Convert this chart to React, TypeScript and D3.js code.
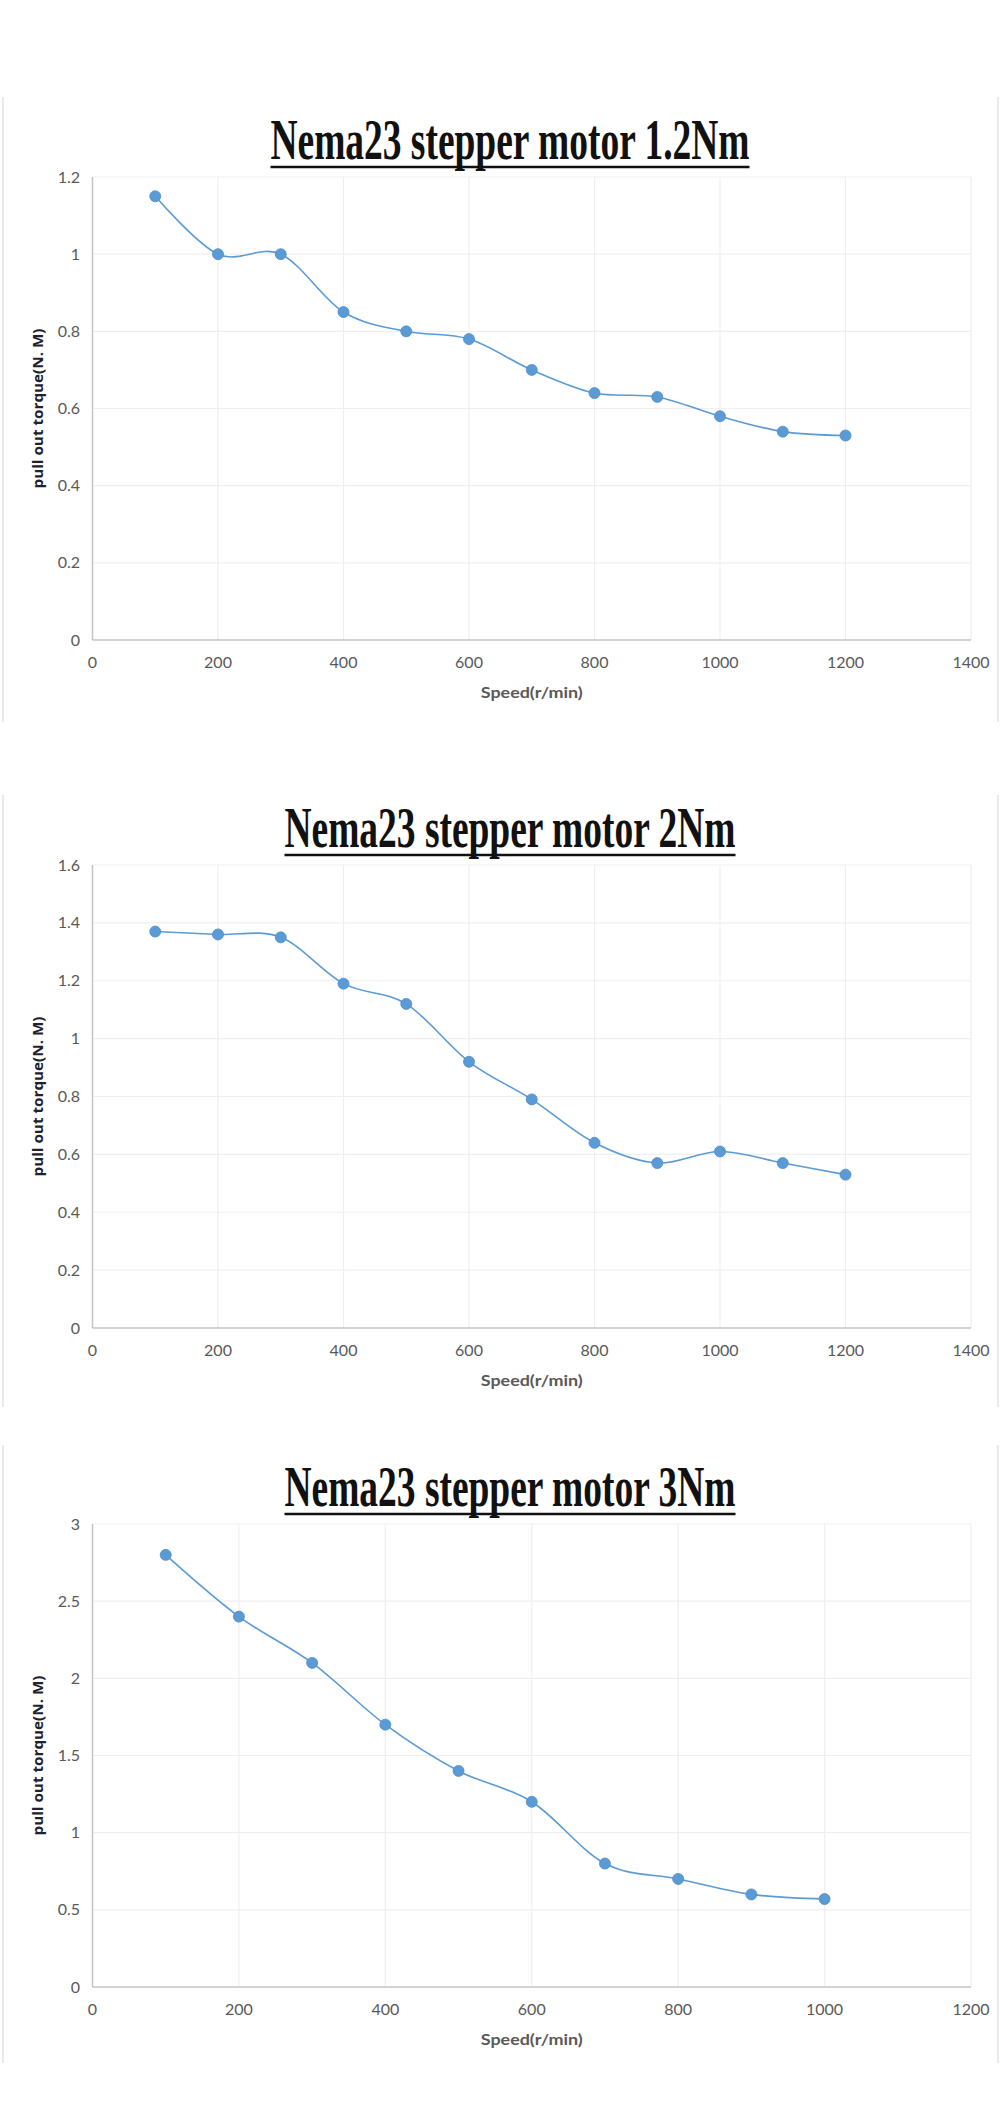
import React from "react";
import * as d3 from "d3";

// ---------- data ----------
const titles = [
  "Nema23 stepper motor 1.2Nm",
  "Nema23 stepper motor 2Nm",
  "Nema23 stepper motor 3Nm",
];

const speeds12 = [100, 200, 300, 400, 500, 600, 700, 800, 900, 1000, 1100, 1200];
const torque12 = [1.15, 1.0, 1.0, 0.85, 0.8, 0.78, 0.7, 0.64, 0.63, 0.58, 0.54, 0.53];

const speeds2 = [100, 200, 300, 400, 500, 600, 700, 800, 900, 1000, 1100, 1200];
const torque2 = [1.37, 1.36, 1.35, 1.19, 1.12, 0.92, 0.79, 0.64, 0.57, 0.61, 0.57, 0.53];

const speeds3 = [100, 200, 300, 400, 500, 600, 700, 800, 900, 1000];
const torque3 = [2.8, 2.4, 2.1, 1.7, 1.4, 1.2, 0.8, 0.7, 0.6, 0.57];

const xTicks12 = [0, 200, 400, 600, 800, 1000, 1200, 1400];
const yTicks12 = [0, 0.2, 0.4, 0.6, 0.8, 1, 1.2];
const xTicks2 = [0, 200, 400, 600, 800, 1000, 1200, 1400];
const yTicks2 = [0, 0.2, 0.4, 0.6, 0.8, 1, 1.2, 1.4, 1.6];
const xTicks3 = [0, 200, 400, 600, 800, 1000, 1200];
const yTicks3 = [0, 0.5, 1, 1.5, 2, 2.5, 3];

const xLabel = "Speed(r/min)";
const yLabel = "pull out torque(N. M)";

// ---------- styles ----------
const BLUE = "#5b9bd5";
const TICK_COLOR = "#595959";
const GRID = "#efefef";
const AXIS = "#c4c4c4";
const FRAME = "#e9eaea";

type PanelProps = {
  title: string;
  titleWidth: number;
  xs: number[];
  ys: number[];
  xTicks: number[];
  yTicks: number[];
  plotTop: number;
  frameTop: number;
  frameBottom: number;
};

const LEFT = 92.5;
const RIGHT = 971;
const PLOT_H = 463;

function Panel({ title, titleWidth, xs, ys, xTicks, yTicks, plotTop, frameTop, frameBottom }: PanelProps) {
  const x = d3
    .scaleLinear()
    .domain([0, xTicks[xTicks.length - 1]])
    .range([LEFT, RIGHT]);
  const y = d3
    .scaleLinear()
    .domain([0, yTicks[yTicks.length - 1]])
    .range([plotTop + PLOT_H, plotTop]);
  const line = d3
    .line<number>()
    .x((_, i) => x(xs[i]))
    .y((d) => y(d))
    .curve(d3.curveCardinal.tension(0));
  const bottom = plotTop + PLOT_H;
  const cx = 510;
  const baseline = plotTop - 18;
  return (
    <g>
      {/* faint frame */}
      <line x1={3} x2={3} y1={frameTop} y2={frameBottom} stroke={FRAME} strokeWidth={2} />
      <line x1={998} x2={998} y1={frameTop} y2={frameBottom} stroke={FRAME} strokeWidth={2} />

      {/* title */}
      <text
        x={cx}
        y={baseline}
        textAnchor="middle"
        fontFamily="'Liberation Serif', 'DejaVu Serif', serif"
        fontWeight={700}
        fontSize={56}
        fill="#111"
        textLength={titleWidth}
        lengthAdjust="spacingAndGlyphs"
      >
        {title}
      </text>
      <line
        x1={cx - titleWidth / 2}
        x2={cx + titleWidth / 2}
        y1={plotTop - 10}
        y2={plotTop - 10}
        stroke="#111"
        strokeWidth={2.5}
      />

      {/* grid */}
      {yTicks.slice(1).map((t) => (
        <line key={"gy" + t} x1={LEFT} x2={RIGHT} y1={y(t)} y2={y(t)} stroke={GRID} strokeWidth={1.2} />
      ))}
      {xTicks.slice(1).map((t) => (
        <line key={"gx" + t} x1={x(t)} x2={x(t)} y1={plotTop} y2={bottom} stroke={GRID} strokeWidth={1.2} />
      ))}

      {/* axes */}
      <line x1={LEFT} x2={LEFT} y1={plotTop} y2={bottom} stroke={AXIS} strokeWidth={1.5} />
      <line x1={LEFT} x2={RIGHT} y1={bottom} y2={bottom} stroke={AXIS} strokeWidth={1.5} />

      {/* tick labels */}
      {yTicks.map((t) => (
        <text
          key={"ly" + t}
          x={80}
          y={y(t)}
          dy="0.35em"
          textAnchor="end"
          fontFamily="Lato, 'Open Sans', sans-serif"
          fontSize={16}
          fill={TICK_COLOR}
        >
          {String(t)}
        </text>
      ))}
      {xTicks.map((t) => (
        <text
          key={"lx" + t}
          x={x(t)}
          y={bottom + 22}
          dy="0.35em"
          textAnchor="middle"
          fontFamily="Lato, 'Open Sans', sans-serif"
          fontSize={16}
          fill={TICK_COLOR}
        >
          {String(t)}
        </text>
      ))}

      {/* axis titles */}
      <text
        x={(LEFT + RIGHT) / 2}
        y={bottom + 53}
        dy="0.35em"
        textAnchor="middle"
        fontFamily="Lato, 'Open Sans', sans-serif"
        fontWeight={700}
        fontSize={15}
        fill={TICK_COLOR}
        textLength={102}
        lengthAdjust="spacingAndGlyphs"
      >
        {xLabel}
      </text>
      <text
        transform={`translate(38, ${(plotTop + bottom) / 2}) rotate(-90)`}
        dy="0.35em"
        textAnchor="middle"
        fontFamily="'Open Sans', Lato, sans-serif"
        fontWeight={700}
        fontSize={14}
        fill="#1c2230"
        textLength={160}
        lengthAdjust="spacingAndGlyphs"
      >
        {yLabel}
      </text>

      {/* series */}
      <path d={line(ys) || ""} fill="none" stroke={BLUE} strokeWidth={1.6} />
      {ys.map((v, i) => (
        <circle key={"p" + i} cx={x(xs[i])} cy={y(v)} r={5.5} fill={BLUE} stroke="#4f8cc6" strokeWidth={0.8} />
      ))}
    </g>
  );
}

export default function App() {
  return (
    <div style={{ position: "absolute", left: 0, top: 0, width: 1000, height: 2125, background: "#fff" }}>
      <svg width={1000} height={2125} viewBox="0 0 1000 2125" style={{ display: "block" }}>
        <rect x={0} y={0} width={1000} height={2125} fill="#fff" />
        <Panel
          title={titles[0]}
          titleWidth={479}
          xs={speeds12}
          ys={torque12}
          xTicks={xTicks12}
          yTicks={yTicks12}
          plotTop={177}
          frameTop={97}
          frameBottom={722}
        />
        <Panel
          title={titles[1]}
          titleWidth={451}
          xs={speeds2}
          ys={torque2}
          xTicks={xTicks2}
          yTicks={yTicks2}
          plotTop={865}
          frameTop={795}
          frameBottom={1407}
        />
        <Panel
          title={titles[2]}
          titleWidth={451}
          xs={speeds3}
          ys={torque3}
          xTicks={xTicks3}
          yTicks={yTicks3}
          plotTop={1524}
          frameTop={1445}
          frameBottom={2063}
        />
      </svg>
    </div>
  );
}
